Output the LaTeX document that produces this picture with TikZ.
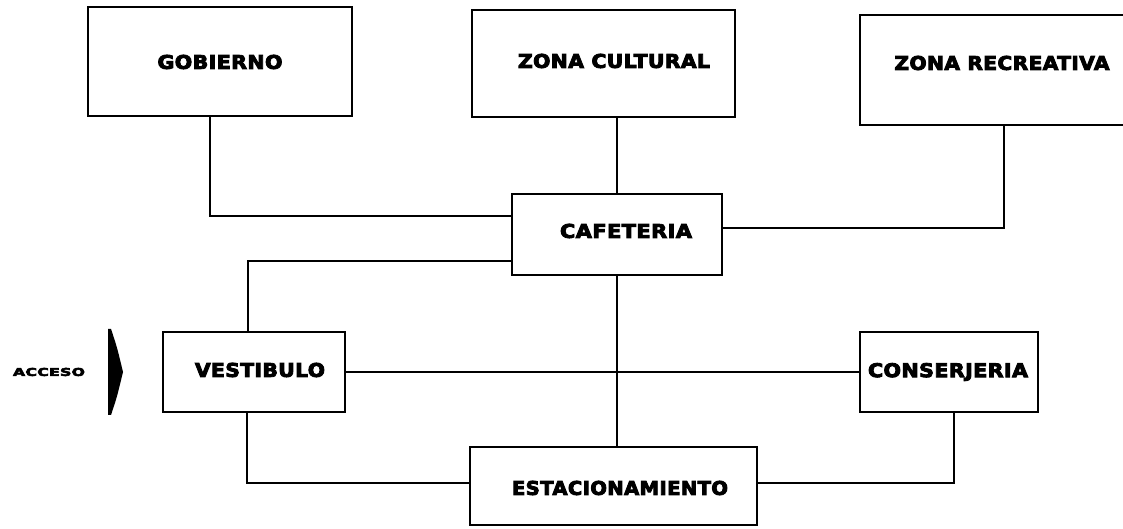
\documentclass[tikz,border=0pt]{standalone}
\usepackage{graphicx}
\usepackage{fontspec}
\newfontfamily\lblfont[LetterSpace=2,FakeBold=4.5]{DejaVu Sans}
\newcommand{\lbl}[3]{\resizebox{#1}{#2}{\lblfont\bfseries #3}}
\begin{document}
\begin{tikzpicture}[x=1pt,y=1pt,
  box/.style={draw=black,line width=1.9pt,rectangle,inner sep=0pt},
  conn/.style={draw=black,line width=1.9pt},
  txt/.style={inner sep=0pt,anchor=center}]
\useasboundingbox (0,0) rectangle (1123,529);
\clip (0,0) rectangle (1123,529);
% boxes
\node[box,minimum width=264pt,minimum height=109pt] (gob) at (220,467.5) {};
\node[box,minimum width=263pt,minimum height=107pt] (zc) at (603.5,465.5) {};
\node[box,minimum width=275pt,minimum height=110pt] (zr) at (997.5,459) {};
\node[box,minimum width=210pt,minimum height=81pt] (caf) at (617,294.5) {};
\node[box,minimum width=182pt,minimum height=80pt] (vest) at (254,157) {};
\node[box,minimum width=178pt,minimum height=80pt] (cons) at (949,157) {};
\node[box,minimum width=287pt,minimum height=78pt] (est) at (613.5,43) {};
% labels
\node[txt] (tgob) at (220,467) {\lbl{125pt}{14pt}{GOBIERNO}};
\node[txt] (tzc) at (614,468) {\lbl{192pt}{14pt}{ZONA CULTURAL}};
\node[txt] (tzr) at (1002,466) {\lbl{215pt}{14pt}{ZONA RECREATIVA}};
\node[txt] (tcaf) at (626,298) {\lbl{132pt}{14pt}{CAFETERIA}};
\node[txt] (tvest) at (260,159) {\lbl{130pt}{14pt}{VESTIBULO}};
\node[txt] (tcons) at (948,157) {\lbl{160pt}{14pt}{CONSERJERIA}};
\node[txt] (test) at (620,41) {\lbl{216pt}{14pt}{ESTACIONAMIENTO}};
\node[txt] (tacc) at (49,157) {\lbl{72pt}{8pt}{ACCESO}};
% access mark
\fill[black] (108,200) -- (111,200) .. controls (117,182) .. (123,157)
  .. controls (117,132) .. (111,114) -- (108,114) -- cycle;
% connectors
\draw[conn] ([xshift=-10pt]gob.south) |- ([yshift=18.5pt]caf.west);
\draw[conn] ([xshift=-6pt]vest.north) |- ([yshift=-26.5pt]caf.west);
\draw[conn] (zc.south -| caf.north) -- (caf.north);
\draw[conn] ([xshift=6.5pt]zr.south) |- ([yshift=6.5pt]caf.east);
\draw[conn] (caf.south) -- (caf.south |- est.north);
\draw[conn] (vest.east) -- (vest.east -| cons.west);
\draw[conn] ([xshift=-7pt]vest.south) |- ([yshift=3pt]est.west);
\draw[conn] ([xshift=5pt]cons.south) |- ([yshift=3pt]est.east);
\end{tikzpicture}
\end{document}
